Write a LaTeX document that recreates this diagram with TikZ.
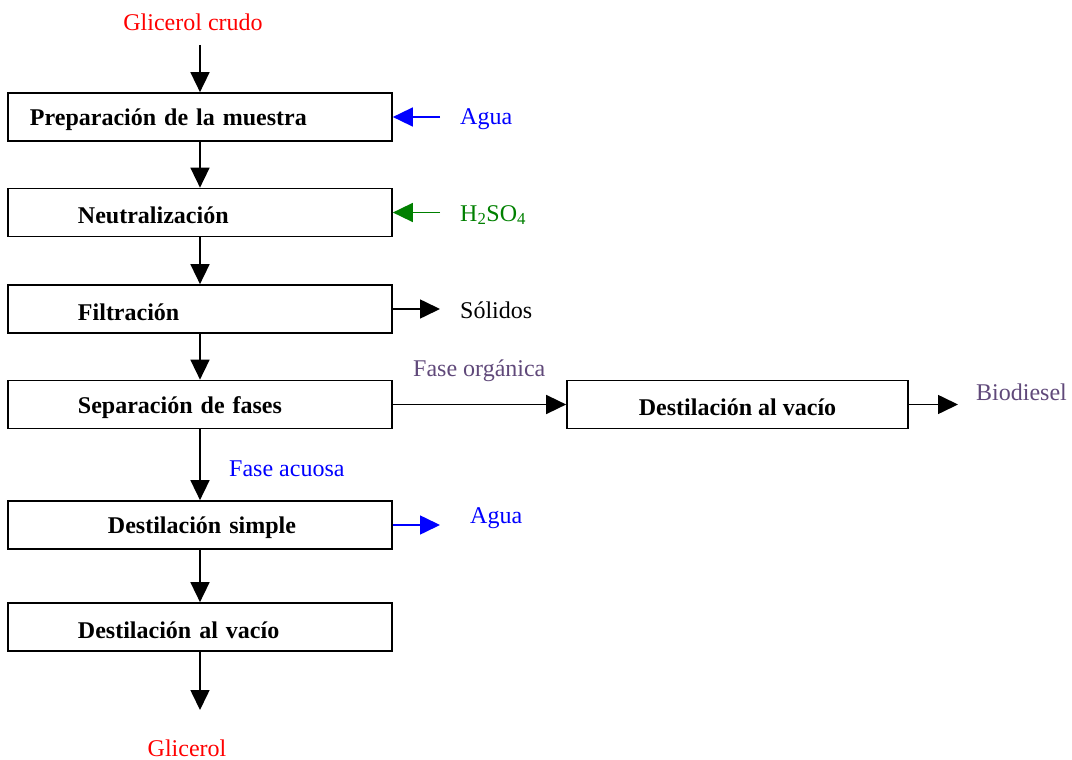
\documentclass[tikz,border=0pt]{standalone}
\usepackage{fontspec}
\setmainfont{Liberation Serif}
\usetikzlibrary{arrows.meta}
\definecolor{orgpurple}{RGB}{96,73,122}
\definecolor{darkgreen}{RGB}{0,128,0}
\newcommand{\boxtxt}[2]{\hspace*{#1}\raisebox{-3pt}[\height][\depth]{#2}}
\tikzset{
  every node/.style={font=\fontsize{24}{28}\selectfont},
  box/.style={draw, line width=1.7pt, minimum width=384pt, minimum height=48pt,
    inner xsep=0pt, text width=384pt, align=left, font=\fontsize{24}{28}\selectfont\bfseries},
  rbox/.style={draw, line width=1.7pt, minimum width=341pt, minimum height=48pt,
    align=center, font=\fontsize{24}{28}\selectfont\bfseries},
  flow/.style={line width=1.6pt, -{Triangle[length=20pt,width=19pt]}},
  lbl/.style={inner sep=0pt}
}
\begin{document}
\begin{tikzpicture}[x=1pt,y=-1pt]
\useasboundingbox (0,0) rectangle (1072,760);
% boxes
\node[box] (b1) at (200,117) {\boxtxt{22pt}{Preparación de la muestra}};
\node[box] (b2) at (200,212.5) {\boxtxt{70pt}{Neutralización}};
\node[box] (b3) at (200,309) {\boxtxt{70pt}{Filtración}};
\node[box] (b4) at (200,404.5) {\boxtxt{70pt}{Separación de fases}};
\node[box] (b5) at (200,525) {\boxtxt{100pt}{Destilación simple}};
\node[box] (b6) at (200,627) {\boxtxt{70pt}{Destilación al vacío}};
\node[rbox] (b7) at (737.5,404.5) {\raisebox{-3pt}[\height][\depth]{Destilación al vacío}};
% labels
\node[lbl, text=red] (gc) at (193,22) {Glicerol crudo};
\node[lbl, text=red] (gl) at (187,748) {Glicerol};
\node[lbl, text=blue, anchor=west] (ag1) at (460,119) {Agua};
\node[lbl, text=darkgreen, anchor=west] (h2) at (460,215) {H\textsubscript{2}SO\textsubscript{4}};
\node[lbl, anchor=west] (sol) at (460,310) {Sólidos};
\node[lbl, text=orgpurple, anchor=west] (fo) at (413,371) {Fase orgánica};
\node[lbl, text=orgpurple, anchor=west] (bd) at (976,392) {Biodiesel};
\node[lbl, text=blue, anchor=west] (fa) at (229,469) {Fase acuosa};
\node[lbl, text=blue, anchor=west] (ag2) at (470,518) {Agua};
% free ends
\coordinate (cin) at (200,45);
\coordinate (cout) at (200,710);
\coordinate (cag1) at (440,117);
\coordinate (ch2) at (440,212.5);
\coordinate (csol) at (440,309);
\coordinate (cbd) at (958,404.5);
\coordinate (cag2) at (440,525);
% connectors
\draw[flow] (cin) -- (b1.north);
\draw[flow] (b1.south) -- (b2.north);
\draw[flow] (b2.south) -- (b3.north);
\draw[flow] (b3.south) -- (b4.north);
\draw[flow] (b4.south) -- (b5.north);
\draw[flow] (b5.south) -- (b6.north);
\draw[flow] (b6.south) -- (cout);
\draw[flow, blue] (cag1) -- (b1.east);
\draw[flow, darkgreen] (ch2) -- (b2.east);
\draw[flow] (b3.east) -- (csol);
\draw[flow] (b4.east) -- (b7.west);
\draw[flow] (b7.east) -- (cbd);
\draw[flow, blue] (b5.east) -- (cag2);
\end{tikzpicture}
\end{document}
